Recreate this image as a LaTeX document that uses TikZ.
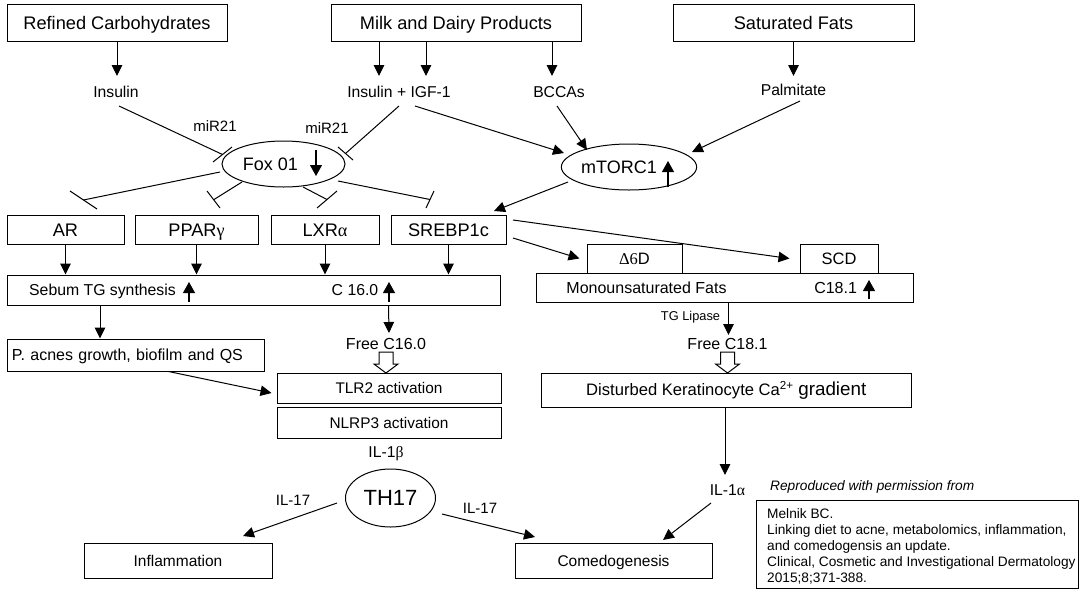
\documentclass[tikz,border=0pt]{standalone}
\usepackage{fontspec}
\setmainfont{Liberation Sans}
\newfontfamily\grk{Liberation Serif}
\usetikzlibrary{arrows.meta,calc,shapes.geometric}
\newcommand\fsz[1]{\fontsize{#1}{#1}\selectfont}
\begin{document}
\begin{tikzpicture}[x=1pt,y=-1pt,
  fs/.style={font=\fsz{#1}, text height={0.716*#1pt}, text depth=0pt},
  box/.style={draw, line width=1pt, inner sep=0pt},
  lbl/.style={inner sep=0pt, fs=15.7},
  oval/.style={draw, ellipse, line width=1pt, inner sep=0pt},
  arr/.style={line width=1pt, -{Triangle[length=11pt,width=10.5pt]}},
  uparr/.style={line width=1.1pt, -{Triangle[length=11pt,width=12pt]}},
  inh/.style={line width=1pt},
  hollow/.style={draw, line width=1pt, fill=white, line join=miter},
]
\useasboundingbox (0,0) rectangle (1081,592);

% dietary sources
\node[box, fs=18.2, minimum width=220, minimum height=37] (refined) at (117,22.5) {Refined Carbohydrates};
\node[box, fs=18.2, minimum width=250, minimum height=37] (milk) at (456,22.5) {Milk and Dairy Products};
\node[box, fs=18.2, minimum width=241, minimum height=37] (satfat) at (793.5,22.5) {Saturated Fats};

% signals
\node[lbl] (insulin) at (116,92) {Insulin};
\node[lbl] (insigf) at (399,92) {Insulin + IGF-1};
\node[lbl] (bccas) at (559,92) {BCCAs};
\node[lbl] (palm) at (793.5,90) {Palmitate};
\node[lbl, fs=15] (mirA) at (215,126) {miR21};
\node[lbl, fs=15] (mirB) at (327,128) {miR21};

% regulators (text kept left of the up/down marker)
\node[oval, fs=18, minimum width=123, minimum height=46] (fox) at (283.5,164) {Fox 01\kern26pt};
\node[oval, fs=18, minimum width=122, minimum height=46] (mtorc) at (629,167) {mTORC1\kern20pt};

% transcription factors
\node[box, fs=18.2, minimum width=117, minimum height=29] (ar) at (65.5,229.5) {AR};
\node[box, fs=18.2, minimum width=123, minimum height=29] (ppar) at (196.5,229.5) {PPAR{\grk γ}};
\node[box, fs=18.2, minimum width=108, minimum height=29] (lxr) at (325,229.5) {LXR{\grk α}};
\node[box, fs=18.2, minimum width=115, minimum height=29] (srebp) at (448.5,229.5) {SREBP1c};

% sebum lipogenesis
\node[box, minimum width=493, minimum height=30] (sebum) at (253.5,290) {};
\node[lbl, fs=15.8] (sebumtxt) at (102.5,290) {Sebum TG synthesis};
\node[lbl, fs=15.8] (c16) at (355,290) {C 16.0};

% desaturases
\node[box, fs=16.5, minimum width=95, minimum height=29] (d6d) at (634.5,258.5) {{\grk Δ6}D};
\node[box, fs=16.5, minimum width=78, minimum height=29] (scd) at (839,258.5) {SCD};
\node[box, minimum width=377.5, minimum height=29] (mufa) at (724.75,287.5) {};
\node[lbl, fs=16] (mufatxt) at (646.5,288) {Monounsaturated Fats};
\node[lbl, fs=16] (c18) at (835.6,288) {C18.1};

% inflammation branch
\node[box, fs=16, text width=247, inner xsep=5, align=left, minimum height=32] (pacnes) at (135.5,355) {P. acnes growth, biofilm and QS};
\node[lbl, fs=16] (free16) at (386,344) {Free C16.0};
\node[box, fs=15.4, minimum width=224, minimum height=30] (tlr2) at (389,388) {TLR2 activation};
\node[box, fs=15.4, minimum width=224, minimum height=31] (nlrp3) at (389,422.5) {NLRP3 activation};
\node[lbl] (il1b) at (386,452) {IL-1{\grk β}};
\node[oval, fs=22, minimum width=90, minimum height=58] (th17) at (390.5,498) {TH17};
\node[lbl, fs=15] (il17a) at (293,500) {IL-17};
\node[lbl, fs=15] (il17b) at (480,508) {IL-17};
\node[box, fs=15.5, minimum width=188, minimum height=35] (inflam) at (178,560.5) {Inflammation};
\node[box, fs=15.5, minimum width=197, minimum height=35] (comedo) at (613.5,560.5) {Comedogenesis};

% keratinocyte branch
\node[lbl, fs=12.8] (tglip) at (690.5,316) {TG Lipase};
\node[lbl, fs=16] (free18) at (727.5,344) {Free C18.1};
\node[box, fs=16.6, minimum width=369.5, minimum height=34] (dist) at (726.25,390) {Disturbed Keratinocyte Ca\textsuperscript{2+} {\fsz{18.8}gradient}};
\node[lbl] (il1a) at (727.5,490) {IL-1{\grk α}};

% source note
\node[anchor=west, inner sep=0pt, font=\fsz{13.7}\itshape] (repro) at (770,487) {Reproduced with permission from};
\node[box, minimum width=322, minimum height=88] (cite) at (917,544) {};
\node[anchor=west, align=left, inner sep=0pt, font=\fontsize{13.7}{15.8}\selectfont] (citetxt) at (767,546.5) {Melnik BC.\\Linking diet to acne, metabolomics, inflammation,\\and comedogensis an update.\\Clinical, Cosmetic and Investigational Dermatology\\2015;8;371-388.};

% sources to signals
\draw[arr] (refined.south) -- ($(refined.south |- insulin)+(0,-16)$);
\draw[arr] ($(milk.south)+(-77,0)$) -- ($(insigf)+(-20,-16)$);
\draw[arr] ($(milk.south)+(-30,0)$) -- ($(insigf)+(27,-16)$);
\draw[arr] ($(milk.south)+(96,0)$) -- ($(bccas)+(-7,-16)$);
\draw[arr] (satfat.south) -- ($(palm)+(0,-14)$);

% inhibition of Fox 01
\draw[inh] ($(insulin)+(3,14)$) -- ($(fox)+(-61,-9.5)$);
\draw[inh] ($(fox)+(-70.5,-2)$) -- ($(fox)+(-51.5,-17)$);
\draw[inh] ($(insigf)+(0,14)$) -- ($(fox)+(62,-10.5)$);
\draw[inh] ($(fox)+(54.5,-17)$) -- ($(fox)+(69.5,-4)$);

% activation of mTORC1
\draw[arr] ($(insigf)+(16,14)$) -- ($(mtorc)+(-65,-14)$);
\draw[arr] ($(bccas)+(-2,14)$) -- ($(mtorc)+(-42,-17)$);
\draw[arr] ($(palm)+(6.5,11)$) -- ($(mtorc)+(63,-15)$);
\draw[arr] ($(mtorc)+(-61,15)$) -- ($(srebp)+(45.5,-18.5)$);

% Fox 01 inhibits the transcription factors
\draw[inh] ($(fox)+(-63.5,8)$) -- ($(ar)+(18,-29.5)$);
\draw[inh] ($(ar)+(4.5,-38.5)$) -- ($(ar)+(31.5,-20.5)$);
\draw[inh] ($(fox)+(-41.5,18)$) -- ($(ppar)+(17.5,-30)$);
\draw[inh] ($(ppar)+(10.5,-38.5)$) -- ($(ppar)+(23.5,-21.5)$);
\draw[inh] ($(fox)+(19.5,23)$) -- ($(lxr)+(2,-30)$);
\draw[inh] ($(lxr)+(-8,-21.5)$) -- ($(lxr)+(12,-38.5)$);
\draw[inh] ($(fox)+(54.5,17)$) -- ($(srebp)+(-18.5,-30)$);
\draw[inh] ($(srebp)+(-22.5,-21.5)$) -- ($(srebp)+(-14.5,-38.5)$);

% up / down markers
\draw[uparr] ($(fox)+(32.5,-14)$) -- ($(fox)+(32.5,12)$);
\draw[uparr] ($(mtorc)+(39,20)$) -- ($(mtorc)+(39,-6)$);
\draw[uparr] ($(sebumtxt)+(86.5,12)$) -- ($(sebumtxt)+(86.5,-8)$);
\draw[uparr] ($(c16)+(34,12)$) -- ($(c16)+(34,-8)$);
\draw[uparr] ($(c18)+(33.4,11)$) -- ($(c18)+(33.4,-8)$);

% transcription factors to sebum synthesis
\draw[arr] (ar.south) -- (ar.south |- sebum.north);
\draw[arr] (ppar.south) -- (ppar.south |- sebum.north);
\draw[arr] (lxr.south) -- (lxr.south |- sebum.north);
\draw[arr] (srebp.south) -- (srebp.south |- sebum.north);
\draw[arr] ($(srebp)+(64.5,8.5)$) -- ($(d6d.west)+(-7,0)$);
\draw[arr] ($(srebp)+(64.5,-9.5)$) -- ($(scd.west)+(-10,0)$);

% palmitate branch
\draw[arr] ($(sebum.south west)+(93.5,0)$) -- ($(pacnes.north west)+(93.5,0)$);
\draw[arr] ($(sebum.south west)+(382,0)$) -- ($(free16)+(3,-11)$);
\draw[hollow, shift={(free16)}] (-7,8) -- (7,8) -- (7,20) -- (12,20) -- (0,29) -- (-12,20) -- (-7,20) -- cycle;
\draw[arr] ($(pacnes.south west)+(162,0)$) -- ($(tlr2.west)+(-5,5)$);
\draw[arr] ($(th17)+(-53.5,5)$) -- ($(inflam)+(65,-24.5)$);
\draw[arr] ($(th17)+(51.5,16)$) -- ($(comedo)+(-78.5,-23.5)$);

% oleate branch
\draw[arr] ($(mufa.south -| free18)+(1,0)$) -- ($(free18)+(1,-9)$);
\draw[hollow, shift={(free18)}] (-7,8) -- (7,8) -- (7,20) -- (12,20) -- (0,29) -- (-12,20) -- (-7,20) -- cycle;
\draw[arr] ($(dist.south -| il1a)+(-2.5,0)$) -- ($(il1a)+(-2.5,-15)$);
\draw[arr] ($(il1a)+(-16.5,13)$) -- ($(comedo)+(49.5,-20.5)$);
\end{tikzpicture}
\end{document}
